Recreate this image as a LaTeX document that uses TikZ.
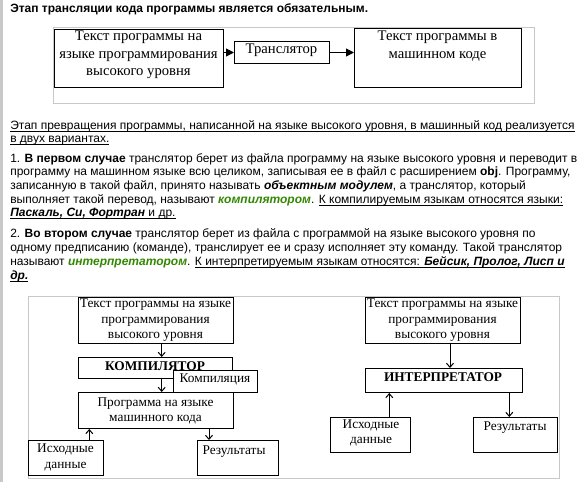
\documentclass[tikz,border=0pt]{standalone}
\usepackage{fontspec}
\setmainfont{Liberation Sans}
\newfontfamily\tnr{Liberation Serif}
\usetikzlibrary{arrows.meta}
\definecolor{termgreen}{RGB}{51,136,0}
\definecolor{framegray}{RGB}{200,200,200}
\newlength\pxl
\setlength\pxl{0.75pt}
\newsavebox\ulnbox
\newcommand\uln[1]{\sbox\ulnbox{#1}\rlap{\rule[-1.8pt]{\wd\ulnbox}{0.6pt}}\usebox\ulnbox}
\newcommand\term[1]{\textcolor{termgreen}{\textbf{\textit{#1}}}}

\begin{document}
\begin{tikzpicture}[x=0.75pt,y=-0.75pt,
    line/.style={anchor=base west, inner sep=0pt, font=\fontsize{9}{10}\selectfont},
    box/.style={draw, line width=0.75pt, inner sep=0pt, anchor=north west, fill=white},
    tx/.style={anchor=north, inner sep=0pt, align=center},
    topfont/.style={font=\tnr\fontsize{11}{13}\selectfont},
    lowfont/.style={font=\tnr\fontsize{10}{11.6}\selectfont},
    boldfont/.style={font=\tnr\bfseries\fontsize{10}{11.6}\selectfont},
    fat/.style={line width=0.75pt, -{Triangle[length=6pt,width=6pt]}},
    thin/.style={line width=0.75pt, -{Straight Barb[length=3pt,width=5.25pt]}}]
    \useasboundingbox (0,0) rectangle (583,482);
    \fill[white] (0,0) rectangle (583,482);
    \fill[framegray] (0,0) rectangle (3,482);

    % text of the page
    \node[line, font=\bfseries\fontsize{9}{10}\selectfont] (title) at (10,12.5) {Этап трансляции кода программы является обязательным.};
    \node[line] (p1a) at (10,129) {\uln{Этап превращения программы, написанной на языке высокого уровня, в машинный код реализуется}};
    \node[line] (p1b) at (10,142.5) {\uln{в двух вариантах.}};
    \node[line] (p2a) at (10,162) {1. \textbf{В первом случае} транслятор берет из файла программу на языке высокого уровня и переводит в};
    \node[line] (p2b) at (10,175.5) {программу на машинном языке всю целиком, записывая ее в файл с расширением \textbf{obj}. Программу,};
    \node[line] (p2c) at (10,189) {записанную в такой файл, принято называть \textbf{\textit{объектным модулем}}, а транслятор, который};
    \node[line] (p2d) at (10,203) {выполняет такой перевод, называют \term{компилятором}. \uln{К компилируемым языкам относятся языки:}};
    \node[line] (p2e) at (10,216.5) {\uln{\textbf{\textit{Паскаль, Си, Фортран}} и др.}};
    \node[line] (p3a) at (10,237.5) {2. \textbf{Во втором случае} транслятор берет из файла с программой на языке высокого уровня по};
    \node[line] (p3b) at (10,251) {одному предписанию (команде), транслирует ее и сразу исполняет эту команду. Такой транслятор};
    \node[line] (p3c) at (10,265) {называют \term{интерпретатором}. \uln{К интерпретируемым языкам относятся:\textbf{\textit{ Бейсик, Пролог, Лисп и}}}};
    \node[line] (p3d) at (10,279) {\uln{\textbf{\textit{др.}}}};

    % translation chain
    \draw[framegray, line width=0.75pt] (53,27) rectangle (534,103);
    \node[box, minimum width=169\pxl, minimum height=58\pxl] (src) at (54,29) {};
    \node[box, minimum width=95\pxl, minimum height=22\pxl] (tr) at (234,41) {};
    \node[box, minimum width=167\pxl, minimum height=59\pxl] (out) at (354,28) {};
    \node[tx, topfont] (srctext) at (138.5,30.8) {Текст программы на\\языке программирования\\высокого уровня};
    \node[tx, topfont] (trtext) at (281.5,43.5) {Транслятор};
    \node[tx, topfont] (outtext) at (437.5,30.8) {Текст программы в\\машинном коде};
    \draw[fat] (src.east |- tr.west) -- (tr.west);
    \draw[fat] (tr.east) -- (tr.east -| out.west);

    % compiler and interpreter
    \draw[framegray, line width=0.75pt] (28,296.5) rectangle (559,478);
    \node[box, minimum width=155\pxl, minimum height=46\pxl] (lsrc) at (78,297) {};
    \node[box, minimum width=154\pxl, minimum height=21\pxl] (comp) at (78,357) {};
    \node[tx, boldfont] (comptext) at (155,361.2) {КОМПИЛЯТОР};
    \node[box, minimum width=84\pxl, minimum height=22\pxl] (step1) at (173,370) {};
    \node[box, minimum width=155\pxl, minimum height=36\pxl] (lobj) at (78,392) {};
    \node[box, minimum width=75\pxl, minimum height=35\pxl] (lin) at (28,440) {};
    \node[box, minimum width=81\pxl, minimum height=35\pxl] (lres) at (197,440) {};
    \node[tx, lowfont] (lsrctext) at (155.5,298.7) {Текст программы на языке\\программирования\\высокого уровня};
    \node[tx, lowfont] (step1text) at (215,373.7) {Компиляция};
    \node[tx, lowfont] (lobjtext) at (155.5,397.2) {Программа на языке\\машинного кода};
    \node[tx, lowfont] (lintext) at (65.5,443.7) {Исходные\\данные};
    \node[tx, lowfont] (lrestext) at (234,445.7) {Результаты};
    \draw[thin] (161.7,0 |- lsrc.south) -- (161.7,0 |- comp.north);
    \draw[thin] (161.7,0 |- comp.south) -- (161.7,0 |- lobj.north);
    \draw[thin] (89.3,0 |- lin.north) -- (89.3,0 |- lobj.south);
    \draw[thin] (209,0 |- lobj.south) -- (209,0 |- lres.north);

    \node[box, minimum width=155\pxl, minimum height=46\pxl] (rsrc) at (365,297) {};
    \node[box, minimum width=157\pxl, minimum height=24\pxl] (interp) at (365,368) {};
    \node[box, minimum width=80\pxl, minimum height=35\pxl] (rin) at (330,417) {};
    \node[box, minimum width=84\pxl, minimum height=35\pxl] (rres) at (473,417) {};
    \node[tx, lowfont] (rsrctext) at (442.5,298.7) {Текст программы на языке\\программирования\\высокого уровня};
    \node[tx, boldfont] (interptext) at (443,372.7) {ИНТЕРПРЕТАТОР};
    \node[tx, lowfont] (rintext) at (371,419.2) {Исходные\\данные};
    \node[tx, lowfont] (rrestext) at (515,421.2) {Результаты};
    \draw[thin] (450,0 |- rsrc.south) -- (450,0 |- interp.north);
    \draw[thin] (389.3,0 |- rin.north) -- (389.3,0 |- interp.south);
    \draw[thin] (509.3,0 |- interp.south) -- (509.3,0 |- rres.north);
\end{tikzpicture}
\end{document}
